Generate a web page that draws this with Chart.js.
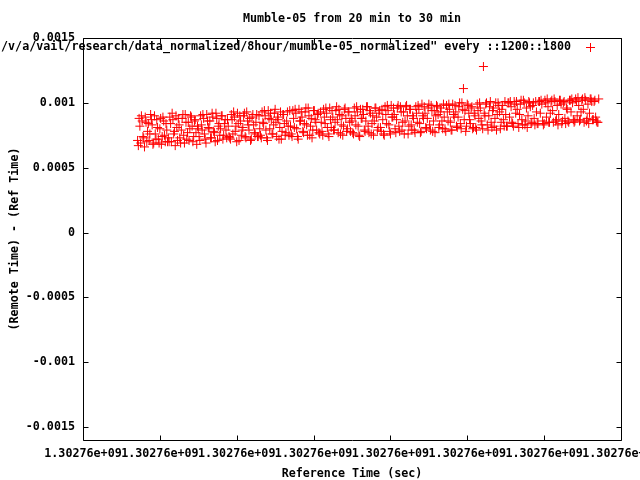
<!DOCTYPE html>
<html><head><meta charset="utf-8">
<script src="https://cdn.jsdelivr.net/npm/chart.js@4"></script>
<style>html,body{margin:0;padding:0;background:#fff}canvas{display:block}</style>
</head><body>
<canvas id="c" width="640" height="480"></canvas>
<script>
const titleText = 'Mumble-05 from 20 min to 30 min';
const seriesLabel = '/v/a/vail/research/data_normalized/8hour/mumble-05_normalized" every ::1200::1800';
const xAxisTitle = 'Reference Time (sec)';
const yAxisTitle = '(Remote Time) - (Ref Time)';
const xTickValues = [0, 100, 200, 300, 400, 500, 600, 700];
const xTickLabels = ['1.30276e+09','1.30276e+09','1.30276e+09','1.30276e+09','1.30276e+09','1.30276e+09','1.30276e+09','1.30276e+09'];
const yTickValues = [-0.0015, -0.001, -0.0005, 0, 0.0005, 0.001, 0.0015];
const yTickLabels = ['-0.0015','-0.001','-0.0005','0','0.0005','0.001','0.0015'];
const sampleStart = 71;   // seconds after first x tick
const sampleStep = 2;     // seconds between samples in each array
// samples at even offsets (71, 73, 75, ...)
const offsetsEven = [
0.00071,0.00088,0.00069,0.00086,0.00073,0.00089,0.00070,0.00084,0.00076,0.00087,0.00068,0.00090,0.00072,0.00081,0.00069,0.00088,0.00074,0.00086,0.00070,0.00079,
0.00073,0.00089,0.00070,0.00087,0.00078,0.00090,0.00071,0.00083,0.00069,0.00088,0.00075,0.00091,0.00072,0.00085,0.00080,0.00089,0.00070,0.00086,0.00077,0.00082,
0.00074,0.00090,0.00079,0.00088,0.00072,0.00091,0.00081,0.00086,0.00073,0.00089,0.00077,0.00092,0.00071,0.00084,0.00080,0.00090,0.00075,0.00087,0.00073,0.00082,
0.00073,0.00091,0.00076,0.00089,0.00082,0.00092,0.00071,0.00086,0.00079,0.00090,0.00074,0.00093,0.00083,0.00088,0.00072,0.00091,0.00077,0.00085,0.00074,0.00090,
0.00075,0.00093,0.00084,0.00090,0.00073,0.00094,0.00080,0.00087,0.00076,0.00092,0.00085,0.00089,0.00072,0.00093,0.00078,0.00091,0.00075,0.00086,0.00082,0.00094,
0.00076,0.00094,0.00081,0.00092,0.00074,0.00095,0.00086,0.00089,0.00077,0.00093,0.00083,0.00096,0.00075,0.00088,0.00079,0.00094,0.00085,0.00091,0.00077,0.00093,
0.00078,0.00095,0.00084,0.00092,0.00076,0.00096,0.00081,0.00089,0.00079,0.00094,0.00087,0.00095,0.00076,0.00090,0.00082,0.00096,0.00078,0.00093,0.00085,0.00088,
0.00077,0.00096,0.00083,0.00093,0.00075,0.00095,0.00088,0.00091,0.00078,0.00097,0.00082,0.00094,0.00076,0.00090,0.00086,0.00096,0.00079,0.00092,0.00081,0.00095,
0.00076,0.00097,0.00084,0.00094,0.00078,0.00098,0.00089,0.00091,0.00077,0.00096,0.00082,0.00097,0.00079,0.00093,0.00086,0.00098,0.00076,0.00095,0.00083,0.00090,
0.00079,0.00097,0.00085,0.00095,0.00077,0.00099,0.00088,0.00092,0.00080,0.00096,0.00083,0.00098,0.00078,0.00094,0.00090,0.00097,0.00081,0.00093,0.00086,0.00099,
0.00080,0.00098,0.00086,0.00095,0.00079,0.00099,0.00089,0.00093,0.00081,0.00097,0.00084,0.00100,0.00111,0.00094,0.00082,0.00098,0.00087,0.00096,0.00080,0.00092,
0.00081,0.00099,0.00088,0.00096,0.00083,0.00128,0.00090,0.00100,0.00079,0.00097,0.00085,0.00094,0.00082,0.00100,0.00091,0.00098,0.00080,0.00095,0.00087,0.00101,
0.00082,0.00100,0.00089,0.00097,0.00084,0.00101,0.00092,0.00095,0.00081,0.00099,0.00087,0.00102,0.00083,0.00096,0.00090,0.00100,0.00084,0.00098,0.00088,0.00101,
0.00084,0.00101,0.00092,0.00099,0.00083,0.00102,0.00089,0.00097,0.00085,0.00101,0.00094,0.00103,0.00086,0.00098,0.00091,0.00102,0.00084,0.00100,0.00088,0.00096,
0.00086,0.00102,0.00093,0.00100,0.00085,0.00103,0.00090,0.00098,0.00087,0.00102,0.00095,0.00104,0.00086,0.00099,0.00092,0.00103,0.00087,0.00101,0.00089,0.00085,
0.00103
];
// samples at odd offsets (72, 74, 76, ...)
const offsetsOdd = [
0.00067,0.00082,0.00090,0.00074,0.00066,0.00085,0.00078,0.00071,0.00091,0.00083,0.00069,0.00076,0.00087,0.00072,0.00080,0.00068,0.00089,0.00075,0.00084,0.00070,
0.00070,0.00084,0.00092,0.00076,0.00067,0.00081,0.00088,0.00073,0.00079,0.00091,0.00069,0.00085,0.00077,0.00071,0.00090,0.00082,0.00074,0.00087,0.00068,0.00080,
0.00071,0.00083,0.00091,0.00076,0.00069,0.00086,0.00080,0.00073,0.00092,0.00078,0.00070,0.00088,0.00082,0.00075,0.00090,0.00072,0.00084,0.00079,0.00087,0.00074,
0.00072,0.00087,0.00093,0.00078,0.00070,0.00084,0.00090,0.00075,0.00081,0.00092,0.00073,0.00086,0.00079,0.00071,0.00089,0.00083,0.00076,0.00091,0.00074,0.00080,
0.00073,0.00085,0.00094,0.00079,0.00071,0.00088,0.00092,0.00076,0.00083,0.00095,0.00074,0.00087,0.00081,0.00072,0.00091,0.00084,0.00077,0.00093,0.00075,0.00082,
0.00074,0.00088,0.00095,0.00080,0.00072,0.00086,0.00093,0.00078,0.00084,0.00096,0.00075,0.00090,0.00082,0.00073,0.00094,0.00087,0.00079,0.00092,0.00076,0.00085,
0.00075,0.00089,0.00096,0.00081,0.00074,0.00087,0.00094,0.00079,0.00085,0.00097,0.00077,0.00091,0.00083,0.00075,0.00095,0.00088,0.00080,0.00093,0.00078,0.00086,
0.00076,0.00090,0.00097,0.00082,0.00074,0.00088,0.00095,0.00079,0.00086,0.00097,0.00077,0.00092,0.00084,0.00075,0.00096,0.00089,0.00081,0.00094,0.00078,0.00087,
0.00075,0.00091,0.00098,0.00083,0.00076,0.00089,0.00096,0.00080,0.00087,0.00098,0.00078,0.00093,0.00085,0.00076,0.00097,0.00090,0.00082,0.00095,0.00079,0.00088,
0.00077,0.00092,0.00098,0.00084,0.00078,0.00090,0.00097,0.00081,0.00088,0.00099,0.00079,0.00094,0.00086,0.00077,0.00098,0.00091,0.00083,0.00096,0.00080,0.00089,
0.00078,0.00093,0.00099,0.00085,0.00079,0.00091,0.00098,0.00082,0.00089,0.00100,0.00080,0.00095,0.00087,0.00078,0.00099,0.00092,0.00084,0.00097,0.00081,0.00090,
0.00079,0.00094,0.00100,0.00086,0.00080,0.00092,0.00099,0.00083,0.00090,0.00101,0.00081,0.00096,0.00088,0.00079,0.00100,0.00093,0.00085,0.00098,0.00082,0.00091,
0.00082,0.00100,0.00101,0.00085,0.00082,0.00099,0.00101,0.00084,0.00091,0.00102,0.00083,0.00100,0.00086,0.00081,0.00101,0.00097,0.00085,0.00100,0.00083,0.00093,
0.00084,0.00101,0.00102,0.00086,0.00084,0.00100,0.00103,0.00085,0.00092,0.00102,0.00085,0.00101,0.00087,0.00083,0.00102,0.00099,0.00086,0.00101,0.00084,0.00095,
0.00085,0.00102,0.00103,0.00087,0.00086,0.00101,0.00104,0.00086,0.00093,0.00103,0.00085,0.00102,0.00088,0.00084,0.00103,0.00101,0.00087,0.00102,0.00086,0.00085
];

const FONT_FAMILY = "'DejaVu Sans Mono', 'Liberation Mono', monospace";
const baseFont = { family: FONT_FAMILY, size: 11.7, weight: 'bold' };
const points = [];
offsetsEven.forEach((v, i) => {
  points.push({ x: sampleStart + i * sampleStep, y: v });
  if (i < offsetsOdd.length) points.push({ x: sampleStart + i * sampleStep + 1, y: offsetsOdd[i] });
});

const framePlugin = {
  id: 'frame',
  beforeDatasetsDraw(chart) {
    const { ctx, chartArea: a, scales: { x, y } } = chart;
    ctx.save();
    ctx.strokeStyle = '#000';
    ctx.lineWidth = 1;
    const L = Math.round(a.left) + 0.5, R = Math.round(a.right) + 0.5;
    const T = Math.round(a.top) + 0.5, B = Math.round(a.bottom) + 0.5;
    ctx.beginPath();
    ctx.rect(L, T, R - L, B - T);
    const tl = 5;
    xTickValues.forEach(v => {
      const px = Math.round(x.getPixelForValue(v)) + 0.5;
      ctx.moveTo(px, B); ctx.lineTo(px, B - tl);
      ctx.moveTo(px, T); ctx.lineTo(px, T + tl);
    });
    yTickValues.forEach(v => {
      const py = Math.round(y.getPixelForValue(v)) + 0.5;
      ctx.moveTo(L, py); ctx.lineTo(L + tl, py);
      ctx.moveTo(R, py); ctx.lineTo(R - tl, py);
    });
    ctx.stroke();
    ctx.restore();
  },
  afterDraw(chart) {
    const { ctx, chartArea: a } = chart;
    ctx.save();
    ctx.fillStyle = '#000';
    ctx.font = 'bold 11.7px ' + FONT_FAMILY;
    ctx.textBaseline = 'middle';
    ctx.textAlign = 'center';
    ctx.fillText(titleText, (a.left + a.right) / 2, 19);
    ctx.textAlign = 'right';
    ctx.fillText(seriesLabel, 571, 47);
    ctx.strokeStyle = '#ff0000';
    ctx.lineWidth = 1;
    ctx.beginPath();
    ctx.moveTo(586, 47.5); ctx.lineTo(595, 47.5);
    ctx.moveTo(590.5, 43); ctx.lineTo(590.5, 52);
    ctx.stroke();
    ctx.restore();
  }
};

new Chart(document.getElementById('c'), {
  type: 'scatter',
  data: {
    datasets: [{
      label: seriesLabel,
      data: points,
      pointStyle: 'cross',
      pointRadius: 4.5,
      pointBorderWidth: 1,
      borderColor: '#ff0000',
      backgroundColor: '#ff0000',
      showLine: false
    }]
  },
  options: {
    responsive: false,
    animation: false,
    layout: { padding: { top: 38, right: 19, left: 0, bottom: 0 } },
    plugins: { legend: { display: false }, tooltip: { enabled: false }, title: { display: false } },
    scales: {
      x: {
        type: 'linear', min: 0, max: 700,
        grid: { display: false, drawTicks: false },
        border: { display: false },
        afterBuildTicks: s => { s.ticks = xTickValues.map(v => ({ value: v })); },
        ticks: {
          autoSkip: false, maxRotation: 0, minRotation: 0, padding: 7,
          color: '#000', font: baseFont,
          callback: (v, i) => xTickLabels[i]
        },
        title: { display: true, text: xAxisTitle, color: '#000', font: baseFont, padding: { top: 0, bottom: -1 } },
        afterFit: s => { s.height = 40; s.paddingLeft = 0; s.paddingRight = 0; }
      },
      y: {
        type: 'linear', min: -0.0016, max: 0.0015,
        grid: { display: false, drawTicks: false },
        border: { display: false },
        afterBuildTicks: s => { s.ticks = yTickValues.map(v => ({ value: v })); },
        ticks: {
          autoSkip: false, padding: 8, color: '#000', font: baseFont,
          callback: (v, i) => yTickLabels[i]
        },
        title: { display: true, text: yAxisTitle, color: '#000', font: baseFont, padding: { top: 8, bottom: 0 } },
        afterFit: s => { s.width = 83; s.paddingTop = 0; s.paddingBottom = 0; }
      }
    }
  },
  plugins: [framePlugin]
});
</script>
</body></html>
